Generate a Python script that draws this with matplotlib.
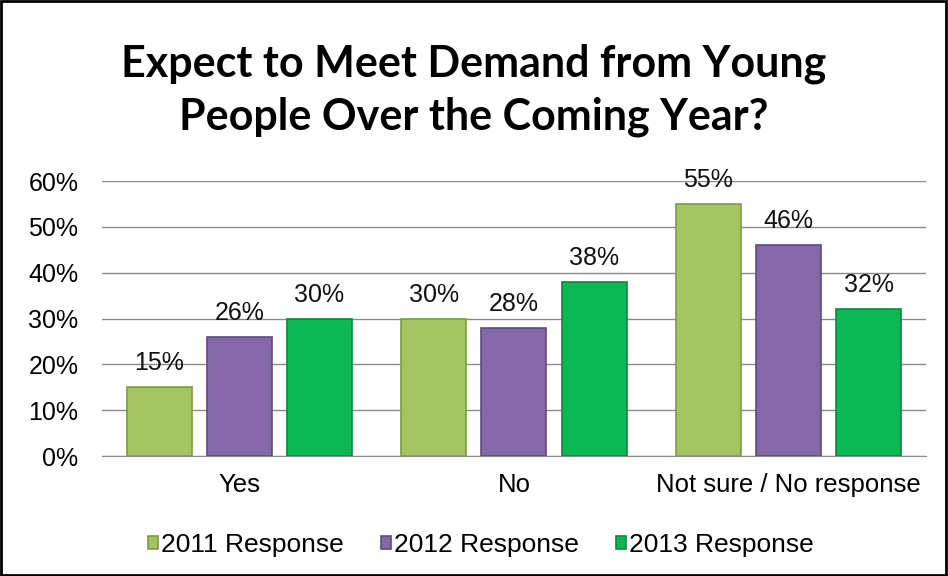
import matplotlib.pyplot as plt
import numpy as np

categories = ["Yes", "No", "Not sure / No response"]
series = ["2011 Response", "2012 Response", "2013 Response"]
v2011 = [15, 30, 55]
v2012 = [26, 28, 46]
v2013 = [30, 38, 32]
colors = ["#A3C460", "#8468A8", "#0CB755"]
edges = ["#7E9A45", "#604A80", "#088A3E"]

plt.rcParams['font.family'] = ['Liberation Sans', 'DejaVu Sans']

fig = plt.figure(figsize=(9.48, 5.76), dpi=100)
ax = fig.add_axes([0.1076, 0.2083, 0.869, 0.4774])

x = np.arange(len(categories))
w = 0.237
off = 0.292
for i, vals in enumerate([v2011, v2012, v2013]):
    pos = x + (i - 1) * off
    bars = ax.bar(pos, vals, w, color=colors[i], edgecolor=edges[i],
                  linewidth=1.2, label=series[i], zorder=3)
    for b, v in zip(bars, vals):
        ax.text(b.get_x() + b.get_width() / 2, v + 3.7, f"{v}%",
                ha="center", va="baseline", fontsize=18, color="#111111", zorder=4)

ax.set_xlim(-0.5, 2.5)
ax.set_ylim(0, 60)
ax.set_yticks(range(0, 61, 10))
ax.set_yticklabels([f"{t}%" for t in range(0, 61, 10)], fontsize=18)
ax.set_xticks(x)
ax.set_xticklabels(categories, fontsize=18.5)
ax.tick_params(axis="both", length=0)
ax.tick_params(axis="y", pad=17)
ax.tick_params(axis="x", pad=12)
ax.yaxis.grid(True, color="#8A8A8A", linewidth=1.0, zorder=0)
for s in ["top", "right", "left"]:
    ax.spines[s].set_visible(False)
ax.spines["bottom"].set_color("#8A8A8A")

fig.text(0.5, 0.843, "Expect to Meet Demand from Young\nPeople Over the Coming Year?",
         ha="center", va="center", fontsize=31, fontweight="bold",
         family=["Lato", "DejaVu Sans"], linespacing=1.38)

leg = fig.legend(loc="center", bbox_to_anchor=(0.507, 0.054), ncol=3, frameon=False,
                 fontsize=19, handlelength=0.4, handleheight=0.4, handletextpad=0.1,
                 columnspacing=1.4)

fig.patches.append(plt.Rectangle((0.001, 0.002), 0.997, 0.996, transform=fig.transFigure,
                                 fill=False, edgecolor="black", linewidth=2))

plt.savefig("out.png", dpi=100)
